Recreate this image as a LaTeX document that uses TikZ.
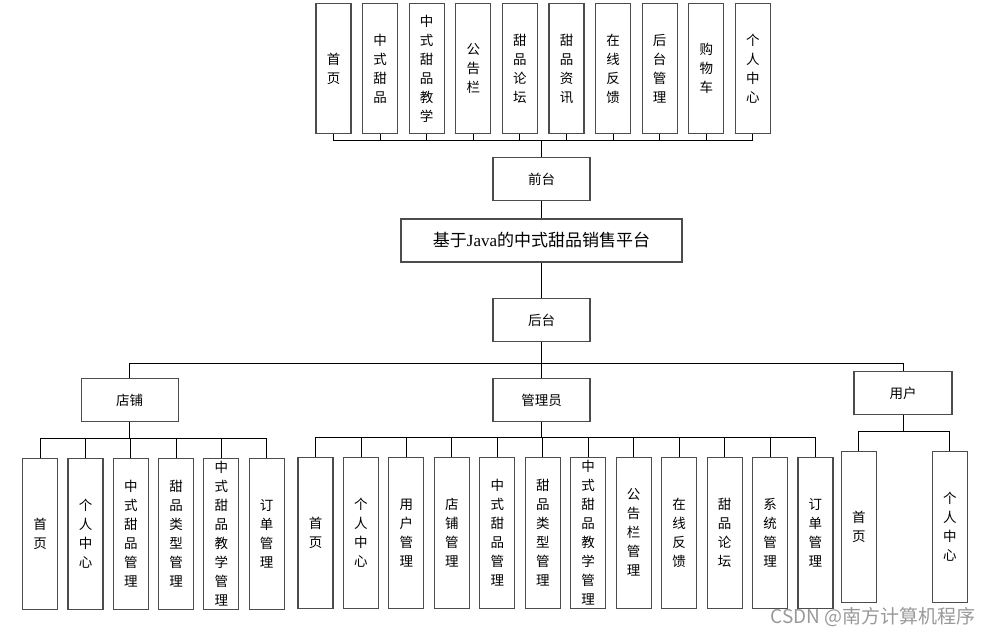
\documentclass[tikz,border=0pt]{standalone}
\usepackage{fontspec}
\newfontfamily\cjk{Noto Sans CJK SC}
\newfontfamily\serifjava{Liberation Serif}
\begin{document}
\begin{tikzpicture}[x=1pt,y=-1pt,
  vbox/.style={draw=black!70, line width=1.1pt, minimum width=35, inner sep=0pt, align=center,
    font=\cjk\fontsize{13.5}{19}\selectfont, anchor=north},
  hbox/.style={draw=black!70, line width=1.1pt, minimum width=97, minimum height=43, inner sep=0pt,
    font=\cjk\fontsize{13.5}{16}\selectfont},
  conn/.style={draw=black, line width=0.9pt}]
\useasboundingbox (0,0) rectangle (991,636);

% top level
\node[hbox] (qt) at (541.5,179) {前台};
\node[hbox, minimum width=281] (main) at (541.5,240.5) {\fontsize{17}{20}\selectfont\cjk 基于{\serifjava Java}的中式甜品销售平台};
\node[hbox] (ht) at (541.5,320) {后台};
\draw[conn] (qt.south) -- (main.north);
\draw[conn] (main.south) -- (ht.north);

% front modules
\foreach \lab [count=\i] in {{首\\页},{中\\式\\甜\\品},{中\\式\\甜\\品\\教\\学},{公\\告\\栏},{甜\\品\\论\\坛},{甜\\品\\资\\讯},{在\\线\\反\\馈},{后\\台\\管\\理},{购\\物\\车},{个\\人\\中\\心}}{
  \node[vbox, minimum height=130] (t\i) at ({333.5+(\i-1)*46.6},3) {\lab};
  \draw[conn] (qt.north) -- ++(0,-16) -| (t\i.south);
}

% second level
\node[hbox] (dp) at (129.7,400.3) {店铺};
\node[hbox] (gly) at (541.5,400.3) {管理员};
\node[hbox, minimum width=98] (yh) at (903,393.3) {用户};
\foreach \n in {dp,gly,yh}{
  \draw[conn] (ht.south) -- ++(0,21) -| (\n.north);
}

% shop modules
\foreach \lab [count=\i] in {{首\\页},{个\\人\\中\\心},{中\\式\\甜\\品\\管\\理},{甜\\品\\类\\型\\管\\理},{中\\式\\甜\\品\\教\\学\\管\\理},{订\\单\\管\\理}}{
  \node[vbox, minimum height=151] (d\i) at ({40.2+(\i-1)*45.3},458) {\lab};
  \draw[conn] (dp.south) -- ++(0,16.3) -| (d\i.north);
}

% admin modules
\foreach \lab [count=\i] in {{首\\页},{个\\人\\中\\心},{用\\户\\管\\理},{店\\铺\\管\\理},{中\\式\\甜\\品\\管\\理},{甜\\品\\类\\型\\管\\理},{中\\式\\甜\\品\\教\\学\\管\\理},{公\\告\\栏\\管\\理},{在\\线\\反\\馈},{甜\\品\\论\\坛},{系\\统\\管\\理},{订\\单\\管\\理}}{
  \node[vbox, minimum height=151] (g\i) at ({315.5+(\i-1)*45.45},456.7) {\lab};
  \draw[conn] (gly.south) -- ++(0,15) -| (g\i.north);
}

% user modules
\node[vbox, minimum height=151] (u1) at (858.9,451) {首\\页};
\node[vbox, minimum height=151] (u2) at (949.9,451) {个\\人\\中\\心};
\foreach \n in {u1,u2}{
  \draw[conn] (yh.south) -- ++(0,16) -| (\n.north);
}

% watermark
\node[anchor=east, text=black!40, inner sep=0pt, font=\cjk\fontsize{19}{22}\selectfont] (wm) at (976,617) {CSDN @南方计算机程序};
\end{tikzpicture}
\end{document}
